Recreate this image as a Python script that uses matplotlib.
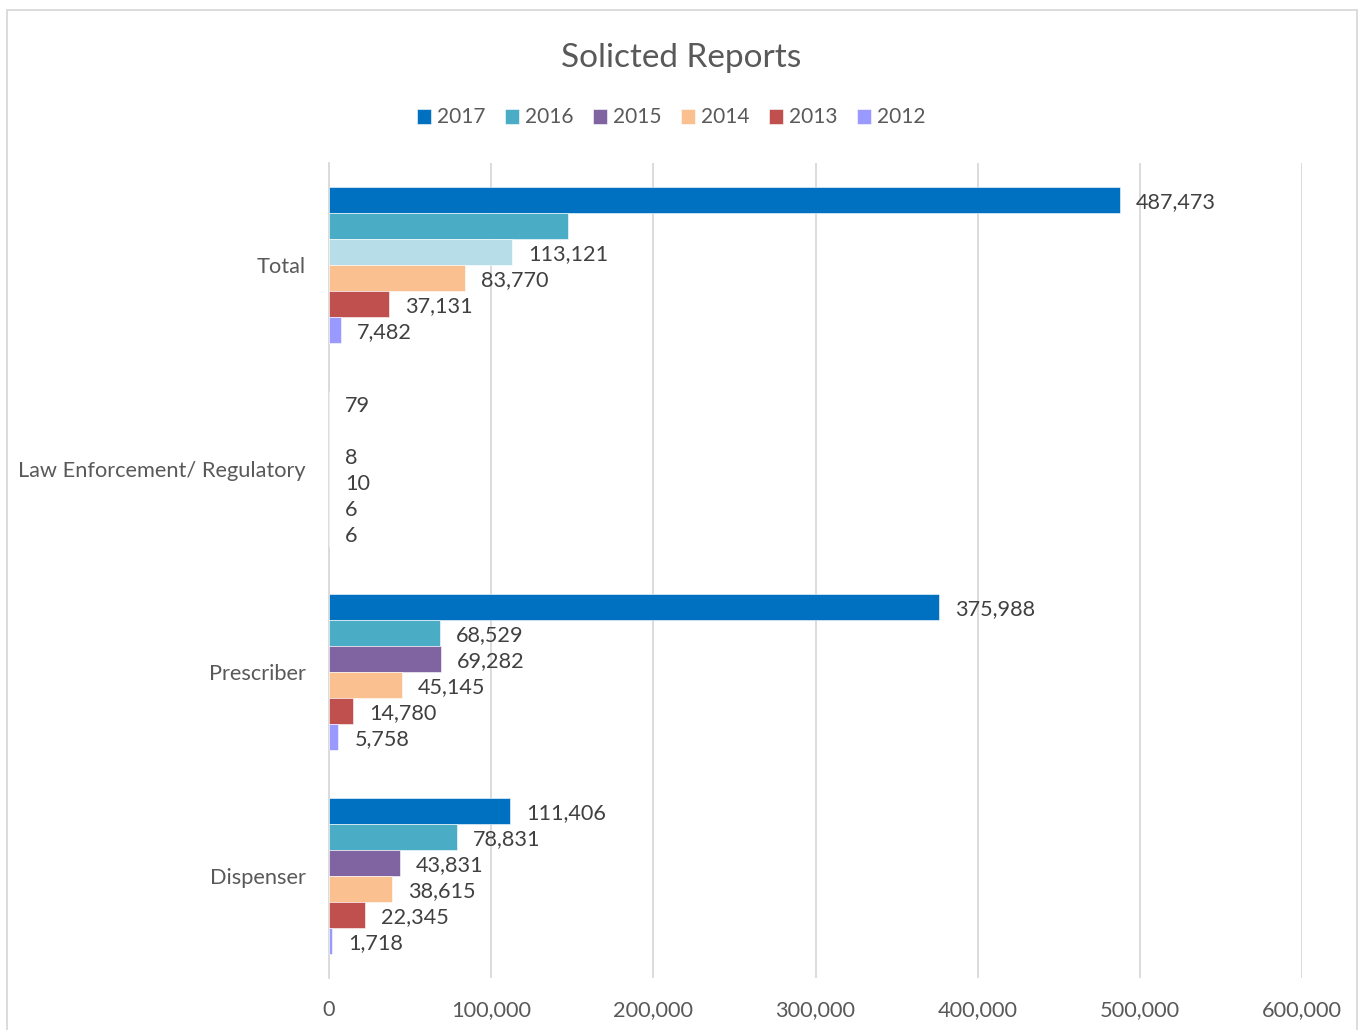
import numpy as np
import matplotlib.pyplot as plt
from matplotlib.patches import Rectangle

# data, top to bottom as shown in the chart
categories = ["Total", "Law Enforcement/ Regulatory", "Prescriber", "Dispenser"]
years = ["2017", "2016", "2015", "2014", "2013", "2012"]
v2017 = [487473, 79, 375988, 111406]
v2016 = [147360, 0, 68529, 78831]
v2015 = [113121, 8, 69282, 43831]
v2014 = [83770, 10, 45145, 38615]
v2013 = [37131, 6, 14780, 22345]
v2012 = [7482, 6, 5758, 1718]
# labels that are not shown in the original
hidden = {("2016", "Total"), ("2016", "Law Enforcement/ Regulatory")}

series = [v2017, v2016, v2015, v2014, v2013, v2012]
colors = ["#0070C0", "#4BACC6", "#8064A2", "#FAC090", "#C0504D", "#9999FF"]
total_2015_color = "#B7DEE8"

plt.rcParams['font.family'] = ['Lato', 'DejaVu Sans']
txt = "#595959"

fig = plt.figure(figsize=(13.59, 10.30), dpi=100)
ax = fig.add_axes([0.2421, 0.0505, 0.9581 - 0.2421, 0.8417 - 0.0505])

ypos = np.arange(len(categories))[::-1]  # Total at top
h = 0.1276
for i, (yr, vals, col) in enumerate(zip(years, series, colors)):
    offs = (2.5 - i) * h
    cols = [col] * len(categories)
    if yr == "2015":
        cols[0] = total_2015_color
    ax.barh(ypos + offs, vals, height=h, color=cols, edgecolor="white",
            linewidth=0.4, label=yr, zorder=3)
    for c, y, v in zip(categories, ypos, vals):
        if (yr, c) in hidden:
            continue
        ax.annotate(f"{v:,}", (v, y + offs), xytext=(16, -2),
                    textcoords="offset pixels",
                    va="center", ha="left", fontsize=15.6, color="#404040")

ax.set_xlim(0, 600000)
ax.set_ylim(-0.5, len(categories) - 0.5)
ax.set_xticks(np.arange(0, 600001, 100000))
ax.set_xticklabels([f"{t:,}" for t in range(0, 600001, 100000)])
ax.set_yticks(ypos)
ax.set_yticklabels(categories)
ax.tick_params(axis="both", length=0, labelsize=15.7, labelcolor=txt)
ax.tick_params(axis="x", pad=16)
ax.tick_params(axis="y", pad=17)
ax.grid(axis="x", color="#D9D9D9", linewidth=1.3, zorder=0)
for s in ["top", "right", "bottom"]:
    ax.spines[s].set_visible(False)
ax.spines["left"].set_color("#D9D9D9")
ax.spines["left"].set_linewidth(1.3)

fig.text(0.5015, 0.944, "Solicted Reports", ha="center", va="center",
         fontsize=24, color=txt)
handles, labels = ax.get_legend_handles_labels()
leg = fig.legend(handles, labels, loc="center", bbox_to_anchor=(0.494, 0.886),
                 ncol=6, frameon=False, fontsize=15, handlelength=0.65,
                 handleheight=0.75, handletextpad=0.3, columnspacing=0.95)
for t in leg.get_texts():
    t.set_color(txt)
for p, c in zip(leg.legend_handles, colors):
    p.set_facecolor(c)

fig.patches.append(Rectangle((7 / 1359, -0.01), 1350 / 1359, 1 - 10 / 1030 + 0.01,
                             transform=fig.transFigure, fill=False,
                             edgecolor="#D9D9D9", linewidth=1.3))

fig.savefig("out.png", dpi=100, facecolor="white")
